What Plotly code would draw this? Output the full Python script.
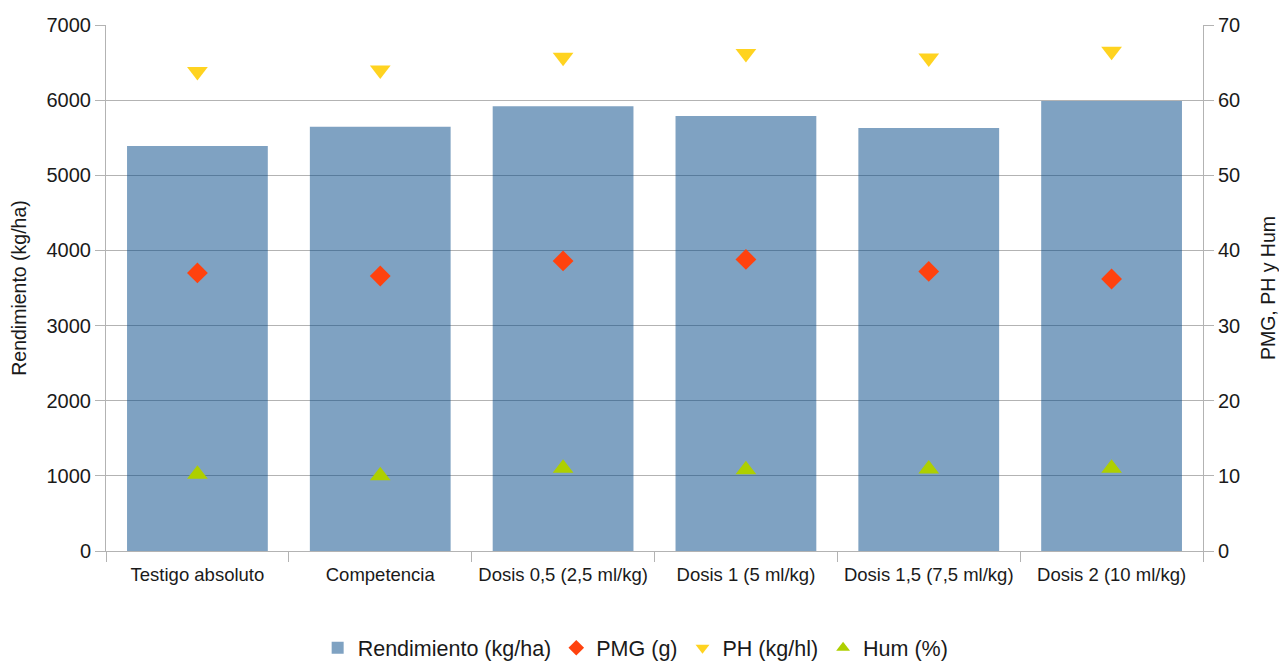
import plotly.graph_objects as go

categorias = ["Testigo absoluto", "Competencia", "Dosis 0,5 (2,5 ml/kg)",
              "Dosis 1 (5 ml/kg)", "Dosis 1,5 (7,5 ml/kg)", "Dosis 2 (10 ml/kg)"]
rendimiento = [5390, 5645, 5920, 5790, 5630, 5990]
pmg = [37.0, 36.6, 38.6, 38.8, 37.2, 36.2]
ph = [63.8, 64.0, 65.7, 66.2, 65.6, 66.5]
hum = [10.2, 10.0, 11.0, 10.8, 10.9, 11.0]

FONT = "Liberation Sans, Arial, sans-serif"
TXT = "#1a1a1a"
GRID = "#b3b3b3"

fig = go.Figure()
fig.add_trace(go.Bar(
    x=categorias, y=rendimiento, name="Rendimiento (kg/ha)",
    marker=dict(color="rgba(0,69,134,0.5)", line=dict(width=0)),
    yaxis="y",
))
fig.add_trace(go.Scatter(
    x=categorias, y=pmg, name="PMG (g)", mode="markers",
    marker=dict(symbol="diamond", size=16, color="#ff420e"), yaxis="y2",
))
fig.add_trace(go.Scatter(
    x=categorias, y=ph, name="PH (kg/hl)", mode="markers",
    marker=dict(symbol="triangle-down", size=18, color="#ffd320"), yaxis="y2",
))
fig.add_trace(go.Scatter(
    x=categorias, y=hum, name="Hum (%)", mode="markers",
    marker=dict(symbol="triangle-up", size=18, color="#aecf00"), yaxis="y2",
))

fig.update_layout(
    width=1279, height=661,
    margin=dict(l=106, r=76, t=25, b=110, autoexpand=False),
    paper_bgcolor="white", plot_bgcolor="white",
    font=dict(family=FONT, color=TXT),
    bargap=0.23,
    showlegend=True,
    legend=dict(orientation="h", xref="container", x=0.497, xanchor="center",
                yref="container", y=0.02, yanchor="middle",
                font=dict(size=21.5, color=TXT), itemsizing="constant",
                traceorder="normal", itemwidth=30),
    xaxis=dict(
        type="category", showgrid=False, showline=True, linecolor=GRID, linewidth=1,
        ticks="outside", tickson="boundaries", ticklen=10, tickcolor=GRID,
        tickfont=dict(size=18.5, color=TXT), automargin=False, ticklabelstandoff=7,
    ),
    yaxis=dict(
        range=[0, 7000], dtick=1000, showgrid=True, gridcolor=GRID, gridwidth=1,
        showline=True, linecolor=GRID, ticks="outside", ticklen=10, tickcolor=GRID,
        tickfont=dict(size=20, color=TXT), zeroline=False, automargin=False,
        title=dict(text="Rendimiento (kg/ha)", font=dict(size=19.5, color=TXT), standoff=14),
    ),
    yaxis2=dict(
        range=[0, 70], dtick=10, overlaying="y", side="right", showgrid=False,
        showline=True, linecolor=GRID, ticks="outside", ticklen=10, tickcolor=GRID,
        tickfont=dict(size=20, color=TXT), zeroline=False, automargin=False,
        title=dict(text="PMG, PH y Hum", font=dict(size=19.5, color=TXT), standoff=22),
    ),
)

fig.write_html("out.html")
